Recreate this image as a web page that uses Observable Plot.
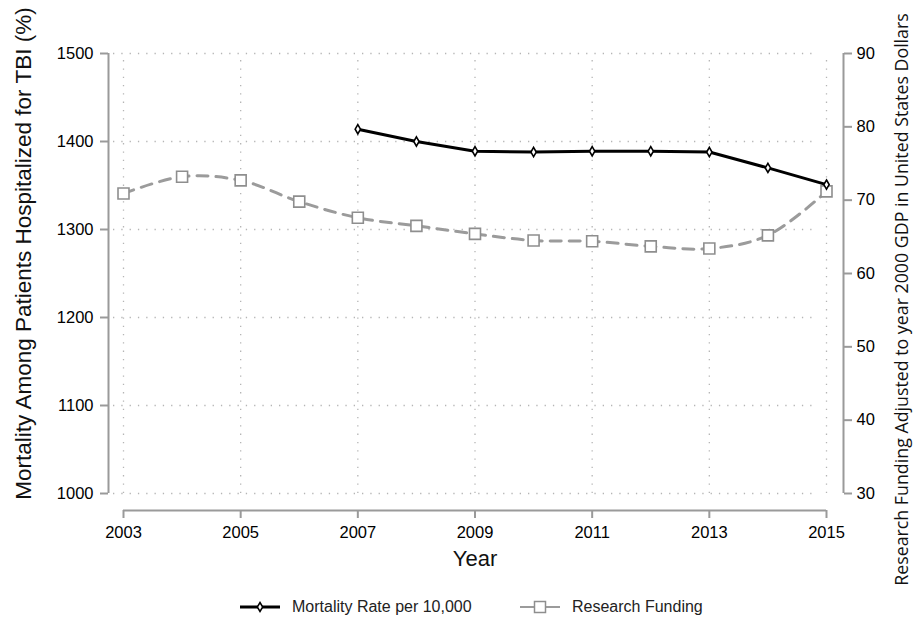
<!DOCTYPE html>
<html>
<head>
<meta charset="utf-8">
<script src="https://cdn.jsdelivr.net/npm/d3@7"></script>
<script src="https://cdn.jsdelivr.net/npm/@observablehq/plot@0.6"></script>
<style>
  body { margin: 0; background: #fff; font-family: "Liberation Sans", Arial, sans-serif; }
  #wrap { position: relative; width: 914px; height: 620px; }
  #legend { position: absolute; top: 598px; left: 0; width: 914px; height: 22px; font-size: 16px; color: #222; }
  .item { position: absolute; top: 0; display: flex; align-items: center; gap: 10px; }
</style>
</head>
<body>
<div id="wrap">
  <div id="chart"></div>
  <div id="legend"></div>
</div>
<script>
// ---- data ----
const years = [2003, 2004, 2005, 2006, 2007, 2008, 2009, 2010, 2011, 2012, 2013, 2014, 2015];
const funding = [70.9, 73.2, 72.7, 69.8, 67.6, 66.5, 65.4, 64.5, 64.4, 63.7, 63.4, 65.2, 71.2];
const mortalityYears = [2007, 2008, 2009, 2010, 2011, 2012, 2013, 2014, 2015];
const mortality = [1414, 1400, 1389, 1388, 1389, 1389, 1388, 1370, 1351];
const xTicks = [2003, 2005, 2007, 2009, 2011, 2013, 2015];
const leftTicks = [1000, 1100, 1200, 1300, 1400, 1500];
const rightTicks = [30, 40, 50, 60, 70, 80, 90];
const leftTitle = "Mortality Among Patients Hospitalized for TBI (%)";
const rightTitle = "Research Funding Adjusted to year 2000 GDP in United States Dollars";
const xTitle = "Year";
const seriesNames = ["Mortality Rate per 10,000", "Research Funding"];

// right axis (30–90) mapped onto left scale (1000–1500)
const toLeft = f => 1000 + (f - 30) * 500 / 60;
const fromLeft = v => Math.round((v - 1000) * 60 / 500 + 30);

const fundData = years.map((y, i) => ({year: y, value: funding[i]}));
const mortData = mortalityYears.map((y, i) => ({year: y, value: mortality[i]}));

const gridStyle = {stroke: "#b5b5b5", strokeWidth: 1.3, strokeDasharray: "1.3,7"};
const axisGray = "#9a9a9a";

const chart = Plot.plot({
  width: 914,
  height: 585,
  marginLeft: 123,
  marginRight: 88,
  marginTop: 53,
  marginBottom: 92,
  style: {fontFamily: "'Liberation Sans', Arial, sans-serif", fontSize: "16px", color: "#000", background: "white", overflow: "visible"},
  x: {domain: [2003, 2015]},
  y: {domain: [1000, 1500]},
  marks: [
    // grid
    Plot.ruleX(xTicks, {y1: 1000, y2: 1500, ...gridStyle}),
    Plot.ruleY(leftTicks, {x1: 2003, x2: 2015, ...gridStyle, dx: -10}),
    // left axis
    Plot.ruleX([2003], {y1: 1000, y2: 1500, dx: -15, stroke: axisGray, strokeWidth: 2}),
    Plot.axisY(leftTicks, {anchor: "left", dx: -15, tickSize: 8, tickPadding: 7, stroke: axisGray, strokeWidth: 2, tickFormat: d => String(d), label: null, fontSize: 16.5}),
    // right axis
    Plot.ruleX([2015], {y1: 1000, y2: 1500, dx: 17, stroke: axisGray, strokeWidth: 2}),
    Plot.axisY(rightTicks.map(toLeft), {anchor: "right", dx: 17, tickSize: 8, tickPadding: 5, stroke: axisGray, strokeWidth: 2, tickFormat: d => String(fromLeft(d)), label: null, fontSize: 16.5}),
    // x axis
    Plot.ruleY([1000], {x1: 2003, x2: 2015, dy: 17, stroke: axisGray, strokeWidth: 2}),
    Plot.axisX(xTicks, {anchor: "bottom", dy: 17, tickSize: 8, tickPadding: 8, stroke: axisGray, strokeWidth: 2, tickFormat: d => String(d), label: null, fontSize: 16.5}),
    // titles
    Plot.text([leftTitle], {frameAnchor: "left", textAnchor: "middle", lineAnchor: "middle", rotate: -90, dx: -100, dy: -20, fontSize: 22.5, fill: "#111"}),
    Plot.text([rightTitle], {frameAnchor: "right", textAnchor: "middle", lineAnchor: "middle", rotate: -90, dx: 76, dy: 26, fontSize: 17.8, fill: "#111", fontFamily: "'Open Sans', sans-serif"}),
    Plot.text([xTitle], {frameAnchor: "bottom", lineAnchor: "middle", dy: 65, fontSize: 22, fill: "#111"}),
    // funding series
    Plot.line(fundData, {x: "year", y: d => toLeft(d.value), stroke: "#9b9b9b", strokeWidth: 3, strokeDasharray: "11,8", curve: "catmull-rom"}),
    Plot.dot(fundData, {x: "year", y: d => toLeft(d.value), symbol: "square", r: 6.2, stroke: "#8e8e8e", strokeWidth: 1.6, fill: "white"}),
    // mortality series
    Plot.line(mortData, {x: "year", y: "value", stroke: "#000", strokeWidth: 3}),
    Plot.dot(mortData, {x: "year", y: "value", symbol: "diamond", r: 2.8, stroke: "#000", strokeWidth: 1.6, fill: "white"})
  ]
});
document.getElementById("chart").appendChild(chart);

// legend
const legend = document.getElementById("legend");
const items = [
  {left: 238, name: seriesNames[0], svg: '<svg width="44" height="14"><line x1="2" x2="42" y1="7" y2="7" stroke="#000" stroke-width="3"/><path d="M22,2.5 L24.7,7 L22,11.5 L19.3,7 Z" fill="white" stroke="#000" stroke-width="1.5"/></svg>'},
  {left: 518, name: seriesNames[1], svg: '<svg width="44" height="14"><line x1="2" x2="42" y1="7" y2="7" stroke="#9b9b9b" stroke-width="2"/><rect x="16.5" y="1.5" width="11" height="11" fill="white" stroke="#8e8e8e" stroke-width="1.5"/></svg>'}
];
for (const it of items) {
  const d = document.createElement("div");
  d.className = "item";
  d.style.left = it.left + "px";
  d.innerHTML = it.svg + "<span>" + it.name + "</span>";
  legend.appendChild(d);
}
</script>
</body>
</html>
